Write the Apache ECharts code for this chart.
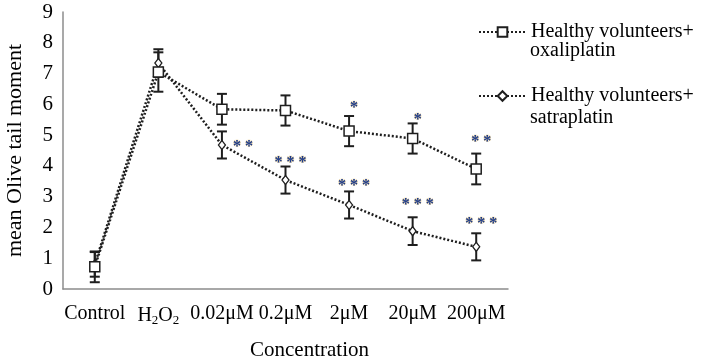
<!DOCTYPE html>
<html>
<head>
<meta charset="utf-8">
<script src="https://cdn.jsdelivr.net/npm/echarts@6/dist/echarts.min.js"></script>
<style>
    html, body { margin: 0; padding: 0; background: #fff; }
    #main { width: 708px; height: 362px; }
</style>
</head>
<body>
<div id="main"></div>
<script>
// values
var categories = ['Control', 'H2O2', '0.02μM', '0.2μM', '2μM', '20μM', '200μM'];
var oxaliMean = [0.72, 7.05, 5.84, 5.80, 5.13, 4.89, 3.90];
var oxaliErr = [0.50, 0.64, 0.50, 0.49, 0.49, 0.49, 0.50];
var satraMean = [0.80, 7.34, 4.68, 3.54, 2.73, 1.88, 1.37];
var satraErr = [0.40, 0.45, 0.44, 0.44, 0.44, 0.45, 0.44];

// significance marks: category index, value, text, side
var starCat = [4, 5, 6, 2, 3, 4, 5, 6];
var starVal = [6.00, 5.62, 4.90, 4.74, 4.22, 3.47, 2.86, 2.24];
var starText = ['*', '*', '**', '**', '***', '***', '***', '***'];
var starSide = ['top', 'top', 'top', 'right', 'top', 'top', 'top', 'top'];

var yTicks = [0, 1, 2, 3, 4, 5, 6, 7, 8, 9];

// legend names, split over two lines like the original
var nameOxali = 'Healthy volunteers+';
var nameSatra = 'Healthy volunteers+ ';
var subOxali = 'oxaliplatin';
var subSatra = 'satraplatin';

var serif = '"Liberation Serif", "Times New Roman", serif';

var errData = function (mean, err) {
    return mean.map(function (m, i) {
        return [i, m, err[i]];
    });
};

var renderErr = function (params, api) {
    var i = api.value(0), m = api.value(1), e = api.value(2);
    var top = api.coord([i, m + e]);
    var bot = api.coord([i, m - e]);
    var w = 5;
    var st = {stroke: '#1e1e1e', lineWidth: 2};
    return {
        type: 'group',
        children: [
            {type: 'line', shape: {x1: top[0], y1: top[1], x2: bot[0], y2: bot[1]}, style: st},
            {type: 'line', shape: {x1: top[0] - w, y1: top[1], x2: top[0] + w, y2: top[1]}, style: st},
            {type: 'line', shape: {x1: bot[0] - w, y1: bot[1], x2: bot[0] + w, y2: bot[1]}, style: st}
        ]
    };
};

var renderStar = function (params, api) {
    var idx = params.dataIndex;
    var p = api.coord([api.value(0), api.value(1)]);
    var dx = starSide[idx] === 'right' ? 21 : 5;
    return {
        type: 'text',
        x: p[0] + dx,
        y: p[1] + 4,
        style: {
            text: starText[idx].split('').join(' '),
            font: 'bold 16px ' + serif,
            fill: '#1c3a8a',
            stroke: '#ead29a',
            lineWidth: 0.7,
            strokeFirst: true,
            align: 'center',
            verticalAlign: 'middle'
        }
    };
};

var myChart = echarts.init(document.getElementById('main'));

var legendText = {fontFamily: serif, fontSize: 20, color: '#000'};

var option = {
    animation: false,
    backgroundColor: '#fff',
    grid: {left: 63, right: 200, top: 12, bottom: 73, outerBoundsMode: 'none', containLabel: false},
    legend: {
        orient: 'vertical',
        left: 473,
        top: 17,
        itemWidth: 47,
        itemHeight: 12,
        itemGap: 44,
        data: [nameOxali, nameSatra],
        textStyle: legendText
    },
    graphic: [
        {type: 'text', left: 530, top: 41, style: {text: subOxali, font: '20px ' + serif, fill: '#000'}},
        {type: 'text', left: 530, top: 108, style: {text: subSatra, font: '20px ' + serif, fill: '#000'}}
    ],
    xAxis: {
        type: 'category',
        data: categories,
        name: 'Concentration',
        nameLocation: 'middle',
        nameGap: 51,
        nameTextStyle: {fontFamily: serif, fontSize: 21, color: '#000', padding: [0, 0, 0, 48]},
        axisLine: {lineStyle: {color: '#8c8c8c', width: 1.5}},
        axisTick: {show: false},
        axisLabel: {
            interval: 0,
            margin: 15,
            fontFamily: serif,
            fontSize: 20,
            color: '#000',
            formatter: function (v) {
                if (v === 'H2O2') {
                    return '{n|H}{s|2}{n|O}{s|2}';
                }
                return v;
            },
            rich: {
                n: {fontFamily: serif, fontSize: 20, color: '#000'},
                s: {fontFamily: serif, fontSize: 13, color: '#000', padding: [10, 0, 0, 0]}
            }
        }
    },
    yAxis: {
        type: 'value',
        min: yTicks[0],
        max: yTicks[yTicks.length - 1],
        interval: 1,
        name: 'mean Olive tail moment',
        nameLocation: 'middle',
        nameGap: 37,
        nameTextStyle: {fontFamily: serif, fontSize: 22, color: '#000'},
        axisLine: {show: true, lineStyle: {color: '#8c8c8c', width: 1.5}},
        axisTick: {show: false},
        splitLine: {show: false},
        axisLabel: {margin: 10, fontFamily: serif, fontSize: 21, color: '#000'}
    },
    series: [{
        type: 'custom',
        name: 'errOxali',
        renderItem: renderErr,
        data: errData(oxaliMean, oxaliErr),
        z: 1
    }, {
        type: 'custom',
        name: 'errSatra',
        renderItem: renderErr,
        data: errData(satraMean, satraErr),
        z: 1
    }, {
        type: 'line',
        name: nameSatra,
        data: satraMean,
        symbol: 'diamond',
        symbolSize: [7, 9],
        showAllSymbol: true,
        lineStyle: {color: '#1e1e1e', width: 2.5, type: [2, 2]},
        itemStyle: {color: '#fff', borderColor: '#1e1e1e', borderWidth: 1.3},
        z: 3
    }, {
        type: 'line',
        name: nameOxali,
        data: oxaliMean,
        symbol: 'rect',
        symbolSize: 10,
        showAllSymbol: true,
        lineStyle: {color: '#1e1e1e', width: 2.5, type: [2, 2]},
        itemStyle: {color: '#fff', borderColor: '#1e1e1e', borderWidth: 1.5},
        z: 4
    }, {
        type: 'custom',
        name: 'stars',
        renderItem: renderStar,
        data: starCat.map(function (c, i) {
            return [c, starVal[i]];
        }),
        z: 5
    }]
};

myChart.setOption(option);
</script>
</body>
</html>
